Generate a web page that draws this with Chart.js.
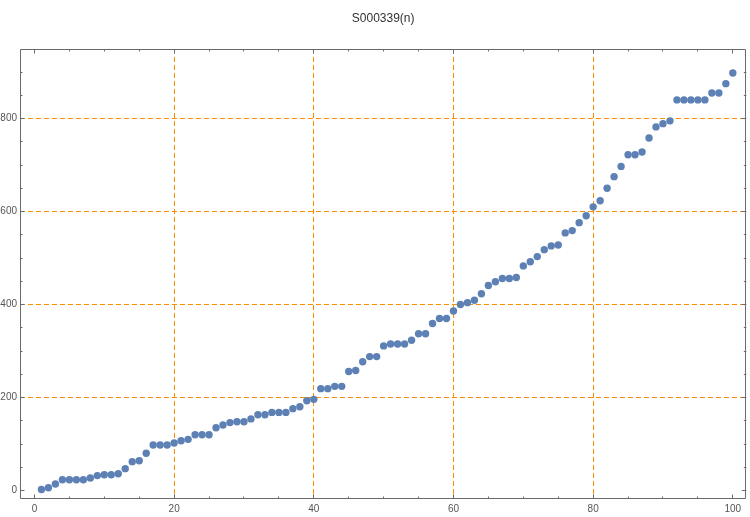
<!DOCTYPE html>
<html>
<head>
<meta charset="utf-8">
<script src="https://cdn.jsdelivr.net/npm/chart.js@4.4.1/dist/chart.umd.min.js"></script>
<style>
  html, body { margin: 0; padding: 0; background: #ffffff; }
  #wrap { width: 750px; height: 517px; position: relative; }
</style>
</head>
<body>
<div id="wrap"><canvas id="c" width="750" height="517"></canvas></div>
<script>
const chartTitle = 'S000339(n)';
const nValues = [];
for (let i = 1; i <= 100; i++) nValues.push(i);
const seqValues = [
  2, 6, 14, 23, 23, 23, 23, 27, 32, 34,
  34, 36, 47, 62, 64, 80, 98, 98, 98, 102,
  107, 110, 120, 120, 120, 135, 141, 146, 148, 148,
  154, 163, 163, 168, 168, 168, 176, 180, 193, 196,
  219, 219, 224, 224, 256, 258, 277, 288, 288, 311,
  315, 315, 315, 323, 337, 337, 359, 370, 370, 386,
  400, 404, 409, 423, 441, 449, 456, 456, 458, 483,
  492, 503, 518, 526, 528, 554, 559, 576, 591, 610,
  623, 650, 675, 697, 722, 722, 728, 758, 782, 789,
  795, 840, 840, 840, 840, 840, 855, 855, 875, 898
];
const xTickValues = [0, 20, 40, 60, 80, 100];
const yTickValues = [0, 200, 400, 600, 800];
const xGridValues = [20, 40, 60, 80];
const yGridValues = [200, 400, 600, 800];

const points = nValues.map((n, i) => ({ x: n, y: seqValues[i] }));

const ORANGE = 'rgb(255,140,0)';
const FRAME = '#6a6a6a';

const titleCenterPlugin = {
  id: 'titleCenter',
  afterLayout(chart) {
    const tb = chart.titleBlock;
    if (tb) { tb.left = chart.chartArea.left; tb.right = chart.chartArea.right; tb.width = tb.right - tb.left; }
  }
};

const framePlugin = {
  id: 'frameTicks',
  afterDraw(chart) {
    const { ctx, chartArea: a, scales } = chart;
    const xs = scales.x, ys = scales.y;
    ctx.save();
    ctx.strokeStyle = FRAME;
    ctx.lineWidth = 1;
    ctx.beginPath();
    ctx.rect(Math.round(a.left) + 0.5, Math.round(a.top) + 0.5,
             Math.round(a.right - a.left) - 1, Math.round(a.bottom - a.top) - 1);
    ctx.stroke();
    ctx.beginPath();
    for (let v = 0; v <= 100; v += 5) {
      const px = Math.round(xs.getPixelForValue(v) - 0.5) + 0.5;
      const len = (v % 20 === 0) ? 4.5 : 2.5;
      ctx.moveTo(px, a.bottom); ctx.lineTo(px, a.bottom - len);
      ctx.moveTo(px, a.top); ctx.lineTo(px, a.top + len);
    }
    for (let v = 0; v <= 900; v += 50) {
      const py = Math.round(ys.getPixelForValue(v) - 0.5) + 0.5;
      const len = (v % 200 === 0) ? 4.5 : 2.5;
      ctx.moveTo(a.left, py); ctx.lineTo(a.left + len, py);
      ctx.moveTo(a.right, py); ctx.lineTo(a.right - len, py);
    }
    ctx.stroke();
    ctx.restore();
  }
};

new Chart(document.getElementById('c'), {
  type: 'scatter',
  data: {
    datasets: [{
      data: points,
      backgroundColor: '#5E81B5',
      borderWidth: 0,
      pointRadius: 3.7,
      pointHoverRadius: 3.7
    }]
  },
  options: {
    responsive: false,
    animation: false,
    devicePixelRatio: 1,
    layout: { padding: { left: 0, right: 2, top: 0, bottom: 0 } },
    plugins: {
      legend: { display: false },
      tooltip: { enabled: false },
      title: {
        display: true,
        text: chartTitle,
        color: '#333333',
        font: { family: 'Liberation Sans', size: 12, weight: 'normal' },
        padding: { top: 11, bottom: 23.6 }
      }
    },
    scales: {
      x: {
        type: 'linear',
        min: -2.0714,
        max: 101.93,
        afterBuildTicks(scale) { scale.ticks = xTickValues.map(v => ({ value: v })); },
        afterFit(scale) { scale.height = 18; },
        grid: {
          drawTicks: false,
          lineWidth: 1,
          color: (c) => (c.tick && xGridValues.includes(c.tick.value)) ? ORANGE : 'rgba(0,0,0,0)'
        },
        border: { display: false, dash: [5, 3] },
        ticks: {
          padding: 4,
          maxRotation: 0,
          color: '#555555',
          font: { family: 'Liberation Sans', size: 10 }
        }
      },
      y: {
        type: 'linear',
        min: -18.28,
        max: 949.5,
        afterBuildTicks(scale) { scale.ticks = yTickValues.map(v => ({ value: v })); },
        afterFit(scale) { scale.width = 20; },
        grid: {
          drawTicks: false,
          lineWidth: 1,
          color: (c) => (c.tick && yGridValues.includes(c.tick.value)) ? ORANGE : 'rgba(0,0,0,0)'
        },
        border: { display: false, dash: [5, 3] },
        ticks: {
          padding: 3,
          color: '#555555',
          font: { family: 'Liberation Sans', size: 10 }
        }
      }
    }
  },
  plugins: [titleCenterPlugin, framePlugin]
});
</script>
</body>
</html>
